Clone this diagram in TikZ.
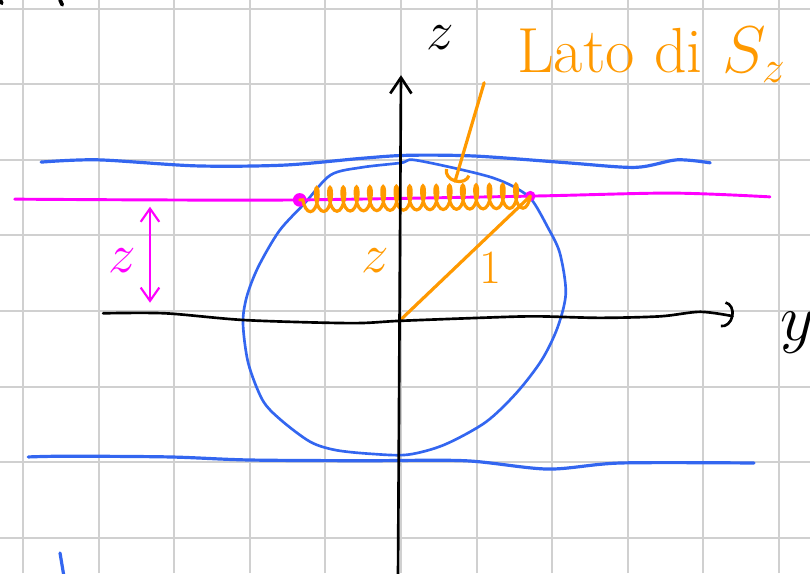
\documentclass[tikz,border=0pt]{standalone}
\usepackage{xcolor}
\usepackage{tikz}
\usetikzlibrary{arrows.meta, decorations.pathmorphing}
\definecolor{myblue}{HTML}{3366F0}
\definecolor{mymagenta}{HTML}{FF00FF}
\definecolor{myorange}{HTML}{FF9900}
\definecolor{mygrid}{HTML}{D0D0D0}

\begin{document}
\begin{tikzpicture}[
  gridline/.style={draw=mygrid, line width=0.8pt},
  axis/.style={black, line width=1pt, line cap=round},
  blueline/.style={myblue, line width=1.2pt, line cap=round},
  magline/.style={mymagenta, line width=1.1pt, line cap=round},
  orline/.style={myorange, line width=1.2pt, line cap=round},
  lbl/.style={font=\fontsize{20}{20}\selectfont, inner sep=0pt},
  barb/.style={-{Straight Barb[length=6pt, width=8pt]}},
  arcbarb/.style={-{Arc Barb[length=4pt, width=10pt]}},
]
\useasboundingbox (-5.304,-3.466) rectangle (5.410,4.114);
\clip (-5.304,-3.466) rectangle (5.410,4.114);

%% Grid
\draw[gridline] (-5.304,-3.466) grid (5.41,4.114);

%% Points
\coordinate (O) at (-0.02,-0.13);
\coordinate (Pl) at (-1.34,1.47);
\coordinate (Pr) at (1.71,1.52);
\coordinate (zbot) at (-0.04,-3.6);
\coordinate (ztop) at (0,3.12);

%% Blue lines and circle
\draw[blueline] plot[smooth] coordinates {(-4.76,1.97) (-4.01,2.00) (-2.71,1.92) (-1.55,1.93) (-0.52,2.02) (0.09,2.06) (0.98,2.05) (2.21,1.96) (3.10,1.90) (3.65,2.00) (4.09,1.96)};
\draw[blueline] plot[smooth] coordinates {(-4.93,-1.93) (-4.42,-1.92) (-3.06,-1.93) (-2.02,-1.97) (-0.52,-1.98) (0.85,-1.98) (1.94,-2.09) (2.90,-2.01) (4.67,-2.01)};
\draw[blueline, line width=1pt] plot[smooth cycle, tension=0.5] coordinates {(0,1.96) (-0.52,1.90) (-0.93,1.80) (-1.27,1.43) (-1.61,1.06) (-1.89,0.58) (-2.04,0.19) (-2.09,-0.16) (-2.02,-0.69) (-1.83,-1.18) (-1.59,-1.44) (-1.20,-1.73) (-0.86,-1.84) (-0.38,-1.89) (0.09,-1.90) (0.57,-1.77) (1.12,-1.47) (1.53,-1.08) (1.86,-0.65) (2.07,-0.22) (2.18,0.24) (2.10,0.77) (1.94,1.11) (1.73,1.47) (1.50,1.64) (1.19,1.77) (0.71,1.89) (0.16,2.00)};
\draw[blueline] (-4.51,-3.20) -- (-4.46,-3.50);

%% Magenta level
\draw[magline] plot[smooth] coordinates {(-5.11,1.48) (-3.32,1.47) (Pl) (Pr) (3.57,1.56) (4.88,1.51)};
\fill[mymagenta] (Pl) circle (0.09);
\fill[mymagenta] (Pr) circle (0.07);
\coordinate (mt) at (-3.32,1.38);
\coordinate (mb) at (-3.32,0.11);
\draw[magline, line width=0.8pt, {Straight Barb[length=5pt, width=7pt]}-{Straight Barb[length=5pt, width=7pt]}] (mt) -- (mb);
\node[lbl, mymagenta] (zmag) at (-3.69,0.67) {$z$};

%% Section S_z
\draw[orline, decorate, decoration={coil, amplitude=4.5pt, segment length=5pt, aspect=0.35}] (Pr) -- (Pl);
\draw[orline] (O) -- (Pr);
\node[lbl, myorange] (zor) at (-0.34,0.67) {$z$};
\node[lbl, myorange, font=\fontsize{18}{18}\selectfont] (one) at (1.19,0.57) {1};
\node[lbl, myorange, font=\fontsize{24}{24}\selectfont, anchor=base west] (lato) at (1.53,3.16) {Lato di $S_z$};
\coordinate (ptr) at (1.10,3.02);
\coordinate (ptrend) at (0.71,1.70);
\draw[orline, arcbarb] (ptr) -- (ptrend);

%% Axes
\draw[axis, barb] (zbot) -- (ztop);
\node[lbl] (zlab) at (0.52,3.62) {$z$};
\draw[axis, arcbarb] plot[smooth] coordinates {(-3.94,-0.03) (-3.12,-0.03) (-2.06,-0.12) (-0.67,-0.16) (O) (1.04,-0.09) (1.77,-0.07) (2.63,-0.09) (3.43,-0.07) (3.96,-0.01) (4.40,-0.07)};
\node[lbl, font=\fontsize{42}{42}\selectfont] (ylab) at (5.24,-0.28) {$y$};

%% Cut-off strokes at the top
\draw[axis, line width=1.4pt] (-5.30,4.114) -- (-5.28,4.07);
\draw[axis, line width=1.4pt] (-4.51,4.114) -- (-4.48,4.05);
\end{tikzpicture}
\end{document}
